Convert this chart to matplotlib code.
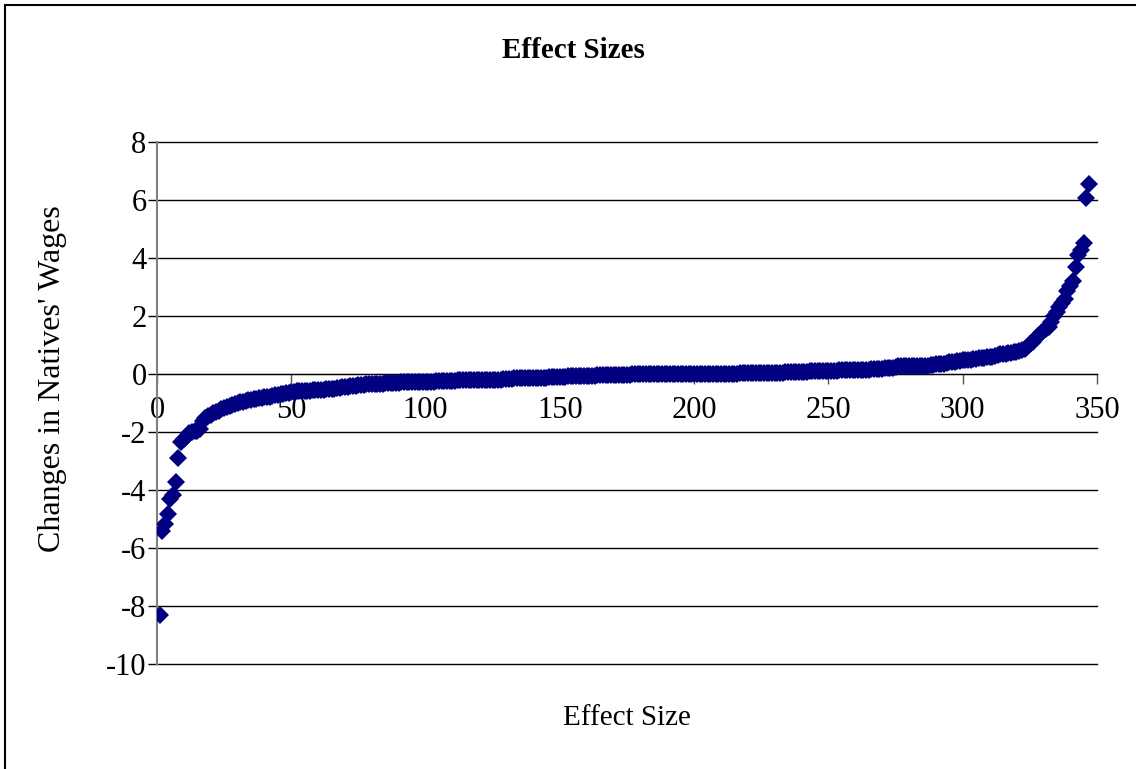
import numpy as np
import matplotlib
matplotlib.use('Agg')
import matplotlib.pyplot as plt
from matplotlib.patches import Rectangle

plt.rcParams['font.family'] = ['Liberation Serif', 'DejaVu Serif']

# sorted effect sizes (one value per study estimate)
wage_change = [
    -8.30, -5.40, -5.18, -4.82, -4.30, -4.18, -3.74, -2.90, -2.36, -2.24,
    -2.12, -2.04, -2.00, -1.98, -1.95, -1.88, -1.62, -1.52, -1.46, -1.40,
    -1.35, -1.30, -1.26, -1.22, -1.18, -1.14, -1.10, -1.07, -1.04, -1.01,
    -0.98, -0.95, -0.92, -0.90, -0.88, -0.86, -0.85, -0.83, -0.82, -0.80,
    -0.79, -0.78, -0.76, -0.74, -0.72, -0.70, -0.68, -0.66, -0.64, -0.62,
    -0.61, -0.60, -0.60, -0.59, -0.58, -0.57, -0.57, -0.56, -0.56, -0.55,
    -0.54, -0.54, -0.53, -0.52, -0.51, -0.50, -0.49, -0.48, -0.46, -0.45,
    -0.44, -0.42, -0.41, -0.40, -0.39, -0.38, -0.37, -0.36, -0.35, -0.35,
    -0.34, -0.34, -0.33, -0.33, -0.32, -0.32, -0.31, -0.31, -0.30, -0.30,
    -0.29, -0.28, -0.28, -0.27, -0.27, -0.27, -0.27, -0.26, -0.26, -0.26,
    -0.26, -0.26, -0.26, -0.25, -0.25, -0.25, -0.25, -0.25, -0.24, -0.24,
    -0.23, -0.22, -0.22, -0.22, -0.21, -0.21, -0.21, -0.21, -0.20, -0.20,
    -0.20, -0.20, -0.20, -0.19, -0.19, -0.19, -0.19, -0.19, -0.18, -0.18,
    -0.18, -0.16, -0.15, -0.15, -0.14, -0.14, -0.14, -0.13, -0.13, -0.13,
    -0.13, -0.12, -0.12, -0.12, -0.12, -0.11, -0.11, -0.11, -0.11, -0.10,
    -0.10, -0.09, -0.08, -0.08, -0.07, -0.07, -0.07, -0.07, -0.06, -0.06,
    -0.06, -0.06, -0.06, -0.05, -0.05, -0.05, -0.05, -0.05, -0.04, -0.04,
    -0.04, -0.04, -0.04, -0.03, -0.03, -0.02, -0.01, -0.01, -0.01, -0.01,
    -0.01, 0.00, 0.00, 0.00, 0.00, 0.00, 0.00, 0.00, 0.00, 0.00,
    0.00, 0.00, 0.00, 0.00, 0.00, 0.00, 0.01, 0.01, 0.01, 0.01,
    0.01, 0.01, 0.01, 0.01, 0.01, 0.01, 0.01, 0.01, 0.01, 0.01,
    0.01, 0.01, 0.01, 0.01, 0.01, 0.01, 0.02, 0.02, 0.02, 0.02,
    0.02, 0.02, 0.02, 0.02, 0.02, 0.02, 0.02, 0.02, 0.02, 0.03,
    0.03, 0.03, 0.04, 0.06, 0.07, 0.07, 0.07, 0.08, 0.08, 0.08,
    0.08, 0.08, 0.09, 0.09, 0.09, 0.09, 0.09, 0.10, 0.10, 0.10,
    0.10, 0.10, 0.11, 0.13, 0.13, 0.14, 0.14, 0.14, 0.14, 0.14,
    0.15, 0.15, 0.15, 0.15, 0.15, 0.16, 0.16, 0.16, 0.17, 0.19,
    0.20, 0.21, 0.21, 0.22, 0.24, 0.26, 0.27, 0.27, 0.27, 0.28,
    0.28, 0.28, 0.28, 0.28, 0.29, 0.29, 0.29, 0.30, 0.32, 0.34,
    0.35, 0.35, 0.36, 0.38, 0.41, 0.42, 0.43, 0.44, 0.46, 0.48,
    0.49, 0.50, 0.50, 0.51, 0.53, 0.56, 0.57, 0.57, 0.58, 0.58,
    0.59, 0.62, 0.67, 0.68, 0.69, 0.70, 0.71, 0.72, 0.75, 0.77,
    0.79, 0.82, 0.86, 0.92, 1.02, 1.10, 1.20, 1.30, 1.40, 1.48,
    1.55, 1.62, 1.80, 2.00, 2.15, 2.30, 2.45, 2.60, 2.85, 3.05,
    3.20, 3.70, 4.10, 4.28, 4.51, 6.06, 6.55,
]
study_rank = np.arange(1, len(wage_change) + 1)

x_ticks = [0, 50, 100, 150, 200, 250, 300, 350]
y_ticks = [-10, -8, -6, -4, -2, 0, 2, 4, 6, 8]

fig = plt.figure(figsize=(11.36, 7.69), dpi=100)
ax = fig.add_axes([0.1382, 0.1365, 0.8275, 0.6788])

ax.plot(study_rank, wage_change, linestyle='none', marker='D', markersize=9,
        color='#000080', markeredgewidth=0, zorder=3)

ax.set_xlim(0, 350)
ax.set_ylim(-10, 8)
ax.set_xticks(x_ticks)
ax.set_yticks(y_ticks)
ax.set_yticklabels([str(v) for v in y_ticks])
ax.yaxis.grid(True, color='black', linewidth=1)
for gl in ax.get_ygridlines():
    gl.set_clip_on(False)
ax.set_axisbelow(True)

for side in ['top', 'right']:
    ax.spines[side].set_visible(False)
ax.spines['left'].set_color('#808080')
ax.spines['left'].set_linewidth(1.5)
ax.spines['bottom'].set_position(('data', 0))
ax.spines['bottom'].set_color('black')

ax.tick_params(axis='x', direction='out', length=7, width=1, color='#555555',
               pad=9, labelsize=22)
ax.tick_params(axis='y', direction='out', length=6.5, width=1, color='black',
               pad=1, labelsize=22)

fig.text(0.505, 1 - 50 / 769, 'Effect Sizes', ha='center', va='center',
         fontsize=21, fontweight='bold')
fig.text(0.552, 1 - 718 / 769, 'Effect Size', ha='center', va='center', fontsize=21)
fig.text(0.046, 1 - 379 / 769, "Changes in Natives' Wages", ha='center',
         va='center', rotation=90, fontsize=23)

# chart area border
fig.patches.append(Rectangle((5 / 1136, -0.1), 1.2, 1.1 - 5 / 769,
                             transform=fig.transFigure, fill=False,
                             edgecolor='black', linewidth=1.5))

fig.savefig('out.png', dpi=100)
